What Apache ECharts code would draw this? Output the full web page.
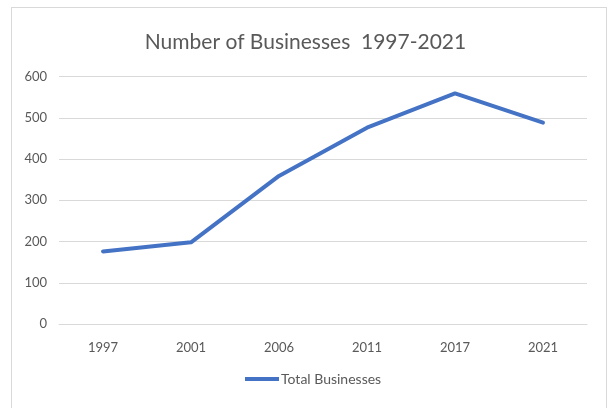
<!DOCTYPE html>
<html><head><meta charset="utf-8">
<script src="https://cdn.jsdelivr.net/npm/echarts@6/dist/echarts.min.js"></script>
<style>html,body{margin:0;padding:0;background:#fff}#c{width:611px;height:408px}
#frame{position:absolute;left:11px;top:7px;width:596px;height:410px;border:1px solid #d9d9d9;box-sizing:border-box;pointer-events:none}</style>
</head><body><div id="c"></div><div id="frame"></div>
<script>
const categories = ['1997','2001','2006','2011','2017','2021'];
const totalBusinesses = [176, 198, 359, 476, 559, 488];
const seriesName = 'Total Businesses';
const titleText = 'Number of Businesses  1997-2021';

const chart = echarts.init(document.getElementById('c'));
const font = 'Lato, "Open Sans", sans-serif';
chart.setOption({
  animation: false,
  title: { text: titleText, left: 'center', top: 27,
    textStyle: { fontFamily: font, fontSize: 21, fontWeight: 'normal', color: '#595959' } },
  grid: { left: 59, right: 24, top: 76.5, bottom: 84 },
  legend: { bottom: 17, left: 240, itemWidth: 34, itemHeight: 4, itemGap: 2,
    icon: 'rect', data: [seriesName],
    textStyle: { fontFamily: font, fontSize: 14, color: '#595959', padding: [0,0,0,-3] } },
  xAxis: { type: 'category', data: categories, boundaryGap: true,
    axisLine: { lineStyle: { color: '#d9d9d9' } }, axisTick: { show: false },
    axisLabel: { fontFamily: font, fontSize: 13, color: '#595959', margin: 17 } },
  yAxis: { type: 'value', min: 0, max: 600, interval: 100,
    axisLine: { show: false }, axisTick: { show: false },
    splitLine: { lineStyle: { color: '#d9d9d9', width: 1 } },
    axisLabel: { fontFamily: font, fontSize: 13, color: '#595959', margin: 12 } },
  series: [{ name: seriesName, type: 'line', data: totalBusinesses, symbol: 'none',
    lineStyle: { color: '#4472c4', width: 4, cap: 'round', join: 'round' },
    itemStyle: { color: '#4472c4' } }]
});
</script></body></html>
